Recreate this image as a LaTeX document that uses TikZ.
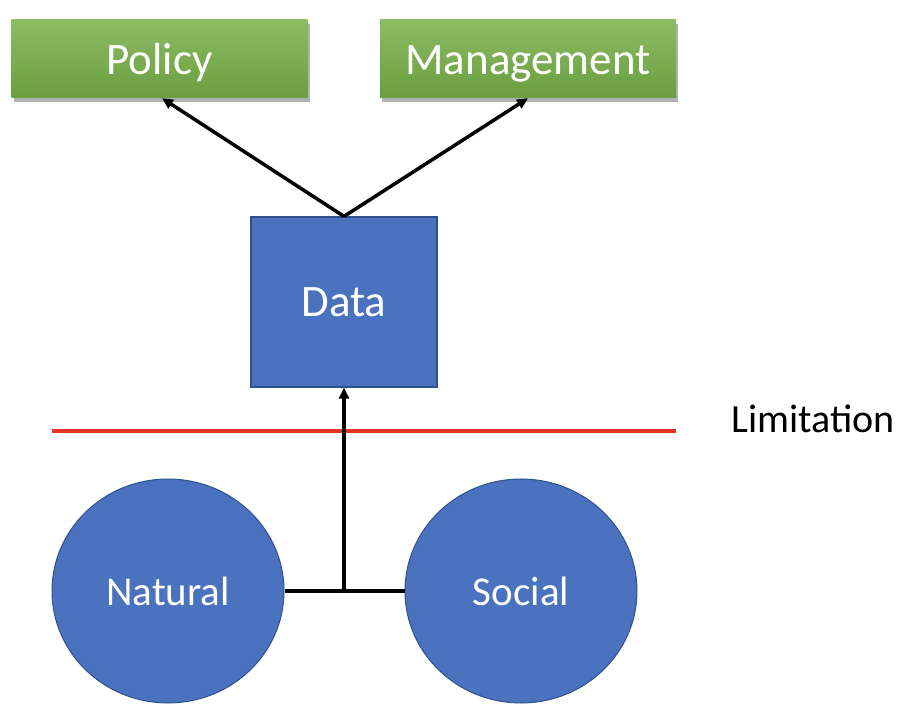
\documentclass[tikz,border=0pt]{standalone}
\usepackage{fontspec}
\setmainfont{Carlito}
\usetikzlibrary{arrows.meta,shadows,shapes.geometric}
\definecolor{gtop}{HTML}{8CBB64}
\definecolor{gbot}{HTML}{6A9E3F}
\definecolor{bluefill}{HTML}{4A72BE}
\definecolor{blueline}{HTML}{2F528F}
\definecolor{redline}{HTML}{E53323}
\begin{document}
\begin{tikzpicture}[x=1pt,y=-1pt,
  greenbox/.style={rectangle, minimum width=296pt, minimum height=78pt, inner sep=0pt,
    top color=gtop, bottom color=gbot, text=white, font=\fontsize{45}{50}\selectfont,
    text height=31pt, text depth=0pt,
    drop shadow={shadow xshift=2pt, shadow yshift=-4pt, opacity=0.3, fill=black}},
  bluebox/.style={rectangle, minimum width=186pt, minimum height=170pt, inner sep=0pt,
    fill=bluefill, draw=blueline, line width=1.2pt, text=white, font=\fontsize{45}{50}\selectfont},
  blueoval/.style={ellipse, minimum width=232pt, minimum height=224pt, inner sep=0pt,
    fill=bluefill, draw=blueline, line width=1pt, text=white, font=\fontsize{41}{46}\selectfont},
  conn/.style={line width=3.5pt, black},
  arr/.style={conn, -{Triangle[length=11pt,width=10pt]}},
  limit/.style={line width=4.5pt, redline}
]
\useasboundingbox (0,0) rectangle (922,708);
\node[greenbox] (policy) at (159.5,59) {Policy};
\node[greenbox] (mgmt) at (528,59) {Management};
\node[bluebox] (data) at (344,302) {Data};
\node[blueoval] (nat) at (168,591) {Natural};
\node[blueoval] (soc) at (521,591) {Social};
\coordinate (j) at (344,591);
\coordinate (rl) at (52,431);
\coordinate (rr) at (676,431);
\node[font=\fontsize{40}{46}\selectfont] (lim) at (813,419) {Limitation};
\draw[limit] (rl) -- (rr);
\draw[conn] (nat.east) -- (soc.west);
\draw[arr] (j) -- (data.south);
\draw[arr] (data.north) -- ([xshift=2.5pt]policy.south);
\draw[arr] (data.north) -- (mgmt.south);
\end{tikzpicture}
\end{document}
